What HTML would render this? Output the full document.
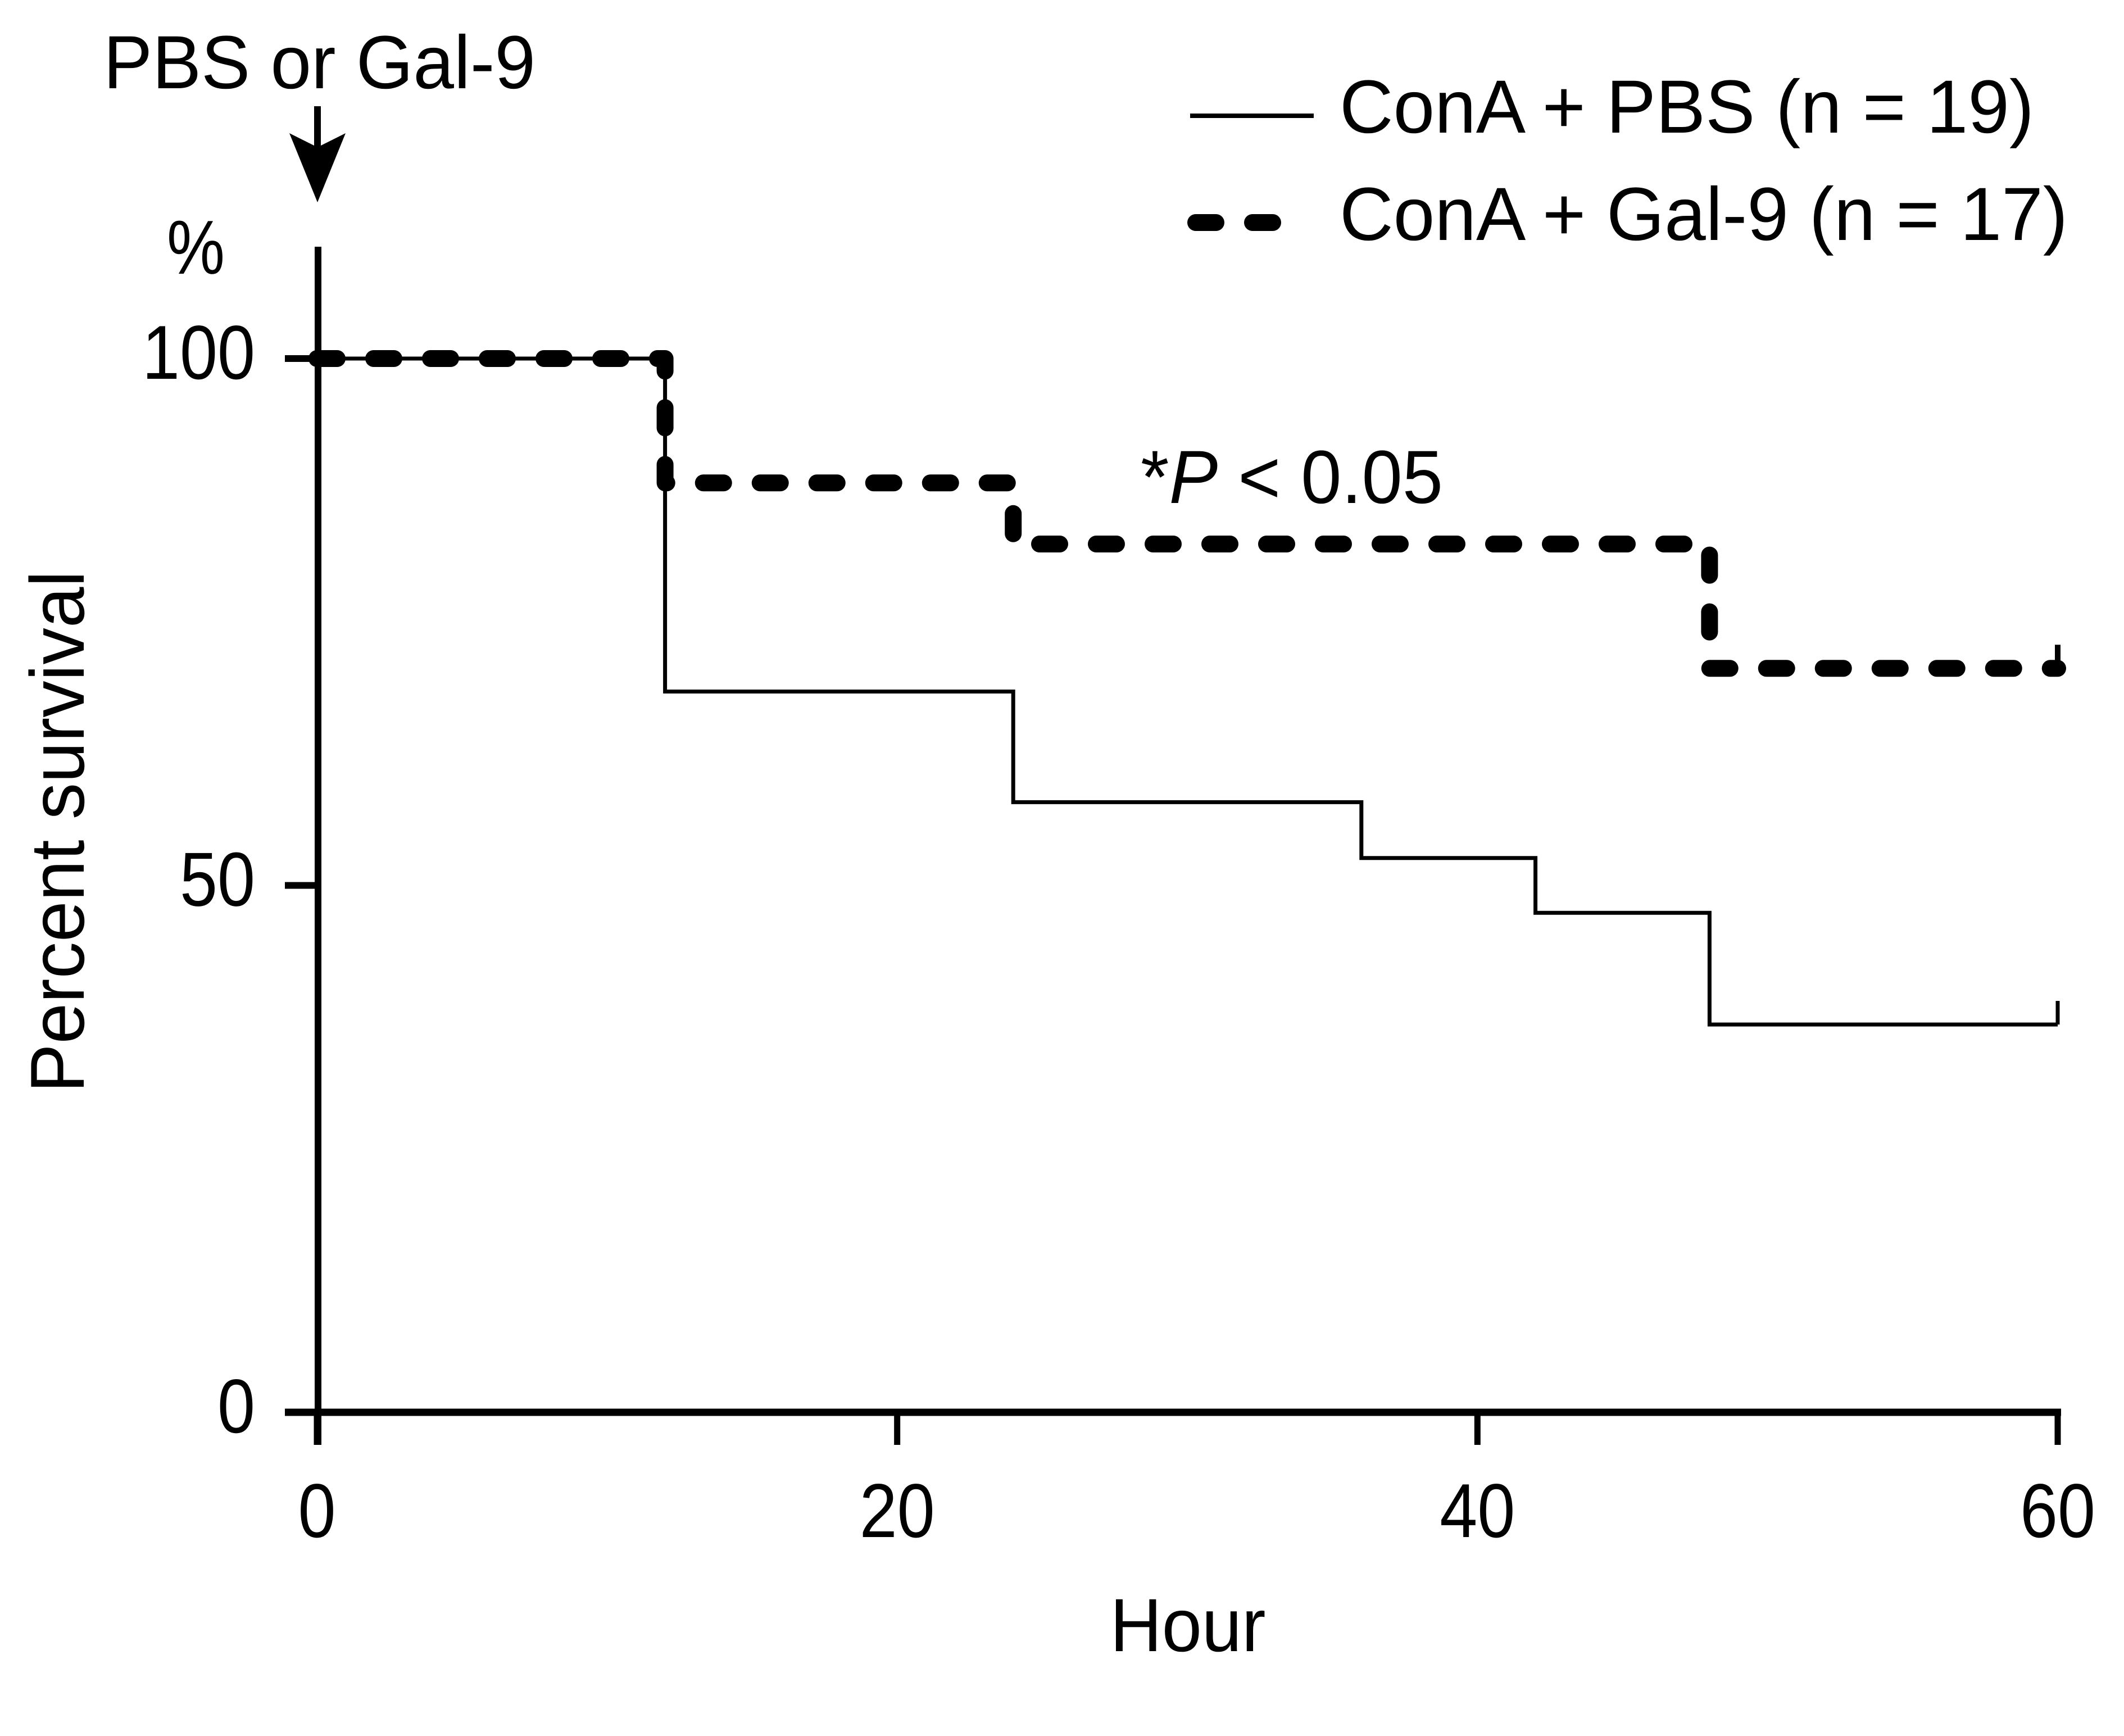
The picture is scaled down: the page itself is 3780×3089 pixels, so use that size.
<!DOCTYPE html>
<html><head><meta charset="utf-8"><style>html,body{margin:0;padding:0;background:#fff}svg{display:block}text{font-family:"Liberation Sans",Arial,sans-serif;fill:#000}</style></head>
<body>
<svg id="chart" width="3780" height="3089" viewBox="0 0 3780 3089" xmlns="http://www.w3.org/2000/svg">
<g id="axes"></g>
<g id="series"></g>
<text x="2114" y="2938" font-size="134" text-anchor="middle" textLength="277" lengthAdjust="spacingAndGlyphs">Hour</text>
<text transform="translate(149,1480) rotate(-90)" font-size="136" text-anchor="middle" textLength="929" lengthAdjust="spacingAndGlyphs">Percent survival</text>
<text x="297" y="487" font-size="136" textLength="103" lengthAdjust="spacingAndGlyphs">%</text>
<text x="184" y="157" font-size="134" textLength="769" lengthAdjust="spacingAndGlyphs">PBS or Gal-9</text>
<g><line x1="565" y1="189" x2="565" y2="280" stroke="#000" stroke-width="12"/><polygon points="515,237 565,262 615,237 565,360" fill="#000"/></g>
<text x="2030" y="895" font-size="134" textLength="538" lengthAdjust="spacingAndGlyphs">*<tspan font-style="italic">P</tspan> &lt; 0.05</text>
<g>
<g><line x1="2118" y1="206" x2="2338" y2="206" stroke="#000" stroke-width="8"/><text x="2384" y="236" font-size="134" textLength="1236" lengthAdjust="spacingAndGlyphs">ConA + PBS (n = 19)</text></g>
<g><line x1="2128" y1="396" x2="2326" y2="396" stroke="#000" stroke-width="30" stroke-dasharray="36,65" stroke-linecap="round"/><text x="2384" y="427" font-size="134" textLength="1296" lengthAdjust="spacingAndGlyphs">ConA + Gal-9 (n = 17)</text></g>
</g>
</svg>
<script>
const xTicks=[0,20,40,60];
const yTicks=[0,50,100];
const pbsTimes=[0,12,24,36,42,48,60];
const pbsValues=[100,68.4,57.9,52.6,47.4,36.8,36.8];
const galTimes=[0,12,24,48,60];
const galValues=[100,88.2,82.4,70.6,70.6];
const NS='http://www.w3.org/2000/svg';
const X=v=>564+(v/60)*(3662-564);
const Y=v=>2513-(v/100)*1875;
function mk(tag,attrs,parent){const e=document.createElementNS(NS,tag);for(const k in attrs)e.setAttribute(k,attrs[k]);parent.appendChild(e);return e;}
const axes=document.getElementById('axes');
let a=mk('line',{x1:566,y1:439,x2:566,y2:2571,stroke:'#000','stroke-width':12},axes);


a=mk('line',{x1:507,y1:2513,x2:3668,y2:2513,stroke:'#000','stroke-width':13},axes);


xTicks.forEach(t=>{
 const l=mk('line',{x1:X(t),y1:2513,x2:X(t),y2:2571,stroke:'#000','stroke-width':11},axes);
 
 
 const s=String(t);
 const tx=mk('text',{x:X(t),y:2735,'font-size':136,'text-anchor':'middle',textLength:s.length*67,lengthAdjust:'spacingAndGlyphs'},axes);tx.textContent=s;
 
 
});
yTicks.forEach(t=>{
 const l=mk('line',{x1:507,y1:Y(t),x2:566,y2:Y(t),stroke:'#000','stroke-width':12},axes);
 
 
 const s=String(t);
 const tx=mk('text',{x:454,y:Y(t)+36,'font-size':136,'text-anchor':'end',textLength:s.length*67,lengthAdjust:'spacingAndGlyphs'},axes);tx.textContent=s;
 
 
});
function stepPath(ts,vs){let d='M'+X(ts[0])+','+Y(vs[0]);for(let i=1;i<ts.length;i++){d+=' H'+X(ts[i])+' V'+Y(vs[i]);}return d;}
const s=document.getElementById('series');
let p=mk('path',{d:stepPath(pbsTimes,pbsValues),fill:'none',stroke:'#000','stroke-width':7},s);


let c=mk('line',{x1:X(60),y1:Y(pbsValues[pbsValues.length-1]),x2:X(60),y2:Y(pbsValues[pbsValues.length-1])-42,stroke:'#000','stroke-width':7},s);


p=mk('path',{d:stepPath(galTimes,galValues),fill:'none',stroke:'#000','stroke-width':30,'stroke-dasharray':'36,65','stroke-linecap':'round','stroke-linejoin':'round'},s);


c=mk('line',{x1:X(60),y1:Y(galValues[galValues.length-1]),x2:X(60),y2:Y(galValues[galValues.length-1])-42,stroke:'#000','stroke-width':10},s);


</script>
</body></html>
